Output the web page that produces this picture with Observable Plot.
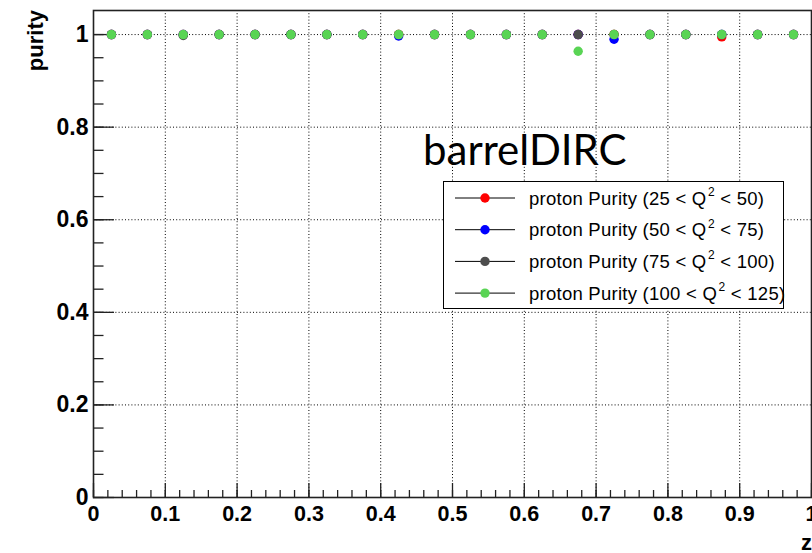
<!DOCTYPE html>
<html>
<head>
<meta charset="utf-8">
<script src="https://cdn.jsdelivr.net/npm/d3@7"></script>
<script src="https://cdn.jsdelivr.net/npm/@observablehq/plot@0.6"></script>
<style>
  html, body { margin: 0; padding: 0; background: #fff; }
  #chart { position: relative; width: 812px; height: 553px; overflow: hidden; }
</style>
</head>
<body>
<div id="chart"></div>
<script>
// ---- data ----
const zBins = [0.025, 0.075, 0.125, 0.175, 0.225, 0.275, 0.325, 0.375, 0.425, 0.475,
               0.525, 0.575, 0.625, 0.675, 0.725, 0.775, 0.825, 0.875, 0.925, 0.975];
const seriesNames = ["25 < Q2 < 50", "50 < Q2 < 75", "75 < Q2 < 100", "100 < Q2 < 125"];
const seriesLegend = [["25", "50"], ["50", "75"], ["75", "100"], ["100", "125"]];
const seriesColors = ["#ff0000", "#0000ff", "#4d4d4d", "#59d454"];
const purityQ25_50   = [1, 1, 1, 1, 1, 1, 1, 1, 1, 1, 1, 1, 1, 1, 1, 1, 1, 0.995, 1, 1];
const purityQ50_75   = [1, 1, 1, 1, 1, 1, 1, 1, 0.997, 1, 1, 1, 1, 1, 0.990, 1, 1, 1, 1, 1];
const purityQ75_100  = [1, 1, 0.998, 1, 1, 1, 1, 1, 1, 1, 1, 1, 1, 1, 1, 1, 1, 1, 1, 1];
const purityQ100_125 = [1, 1, 1, 1, 1, 1, 1, 1, 1, 1, 1, 1, 1, 0.964, 1, 1, 1, 1, 1, 1];
const xMajor = [0, 0.1, 0.2, 0.3, 0.4, 0.5, 0.6, 0.7, 0.8, 0.9, 1];
const xTickLabels = ["0", "0.1", "0.2", "0.3", "0.4", "0.5", "0.6", "0.7", "0.8", "0.9", "1"];
const yMajor = [0, 0.2, 0.4, 0.6, 0.8, 1];
const yTickLabels = ["0", "0.2", "0.4", "0.6", "0.8", "1"];
const xMinor = d3.range(0, 51).map(i => i * 0.02);
const yMinor = d3.range(0, 21).map(i => i * 0.05);
const xGrid = [0.1, 0.2, 0.3, 0.4, 0.5, 0.6, 0.7, 0.8, 0.9];
const yGrid = [0.2, 0.4, 0.6, 0.8, 1];

const allSeries = [purityQ25_50, purityQ50_75, purityQ75_100, purityQ100_125];
const rows = [];
allSeries.forEach((vals, s) => vals.forEach((v, i) => rows.push({z: zBins[i], purity: v, series: seriesNames[s]})));

const W = 812, H = 553;
const mL = 93, mR = 1, mT = 10, mB = 56;
const axisColor = "#222";
const font = "'Liberation Sans', Arial, Helvetica, sans-serif";
const xFmt = d => xTickLabels[xMajor.indexOf(d)];
const yFmt = d => yTickLabels[yMajor.indexOf(d)];

const plot = Plot.plot({
  width: W, height: H,
  marginLeft: mL, marginRight: mR, marginTop: mT, marginBottom: mB,
  style: {fontFamily: font, background: "#fff", overflow: "visible"},
  x: {domain: [0, 1], axis: null},
  y: {domain: [0, 1.052], axis: null},
  color: {domain: seriesNames, range: seriesColors},
  marks: [
    Plot.gridX(xGrid, {stroke: "#000", strokeOpacity: 1, strokeDasharray: "1,2.2", strokeWidth: 1}),
    Plot.gridY(yGrid, {stroke: "#000", strokeOpacity: 1, strokeDasharray: "1,2.2", strokeWidth: 1}),
    // ticks inside the frame
    Plot.axisX({ticks: xMinor, tickSize: -7, tickFormat: () => "", label: null, stroke: axisColor, strokeWidth: 1.3}),
    Plot.axisX({ticks: xMajor, tickSize: -14, tickFormat: () => "", label: null, stroke: axisColor, strokeWidth: 1.3}),
    Plot.axisY({ticks: yMinor, tickSize: -10.5, tickFormat: () => "", label: null, stroke: axisColor, strokeWidth: 1.3}),
    Plot.axisY({ticks: yMajor, tickSize: -21, tickFormat: () => "", label: null, stroke: axisColor, strokeWidth: 1.3}),
    // tick labels
    Plot.axisX({ticks: xMajor, tickSize: 0, tickPadding: 8, tickFormat: xFmt, label: null, fontSize: 21.5, fontWeight: "bold", fill: "#000"}),
    Plot.axisY({ticks: yMajor, tickSize: 0, tickPadding: 5, tickFormat: yFmt, label: null, fontSize: 23, fontWeight: "bold", fill: "#000"}),
    Plot.frame({stroke: axisColor, strokeWidth: 1.6}),
    Plot.dot(rows, {x: "z", y: "purity", fill: "series", r: 4.7, stroke: null})
  ]
});
document.getElementById("chart").appendChild(plot);

const svg = d3.select(plot);
// axis titles
svg.append("text")
  .attr("transform", "translate(43,10) rotate(-90)")
  .attr("text-anchor", "end")
  .style("font-family", font).style("font-weight", "bold").style("font-size", "22px")
  .text("purity");
svg.append("text")
  .attr("x", 812).attr("y", 550)
  .attr("text-anchor", "end")
  .style("font-family", font).style("font-weight", "bold").style("font-size", "22px")
  .text("z");
// annotation
svg.append("text")
  .attr("x", 423).attr("y", 165)
  .attr("text-anchor", "start")
  .style("font-family", "Lato, 'Open Sans', sans-serif").style("font-size", "42px")
  .text("barrelDIRC");
// legend
const lg = svg.append("g");
lg.append("rect").attr("x", 443.5).attr("y", 181.5).attr("width", 340).attr("height", 127)
  .attr("fill", "#fff").attr("stroke", "#000").attr("stroke-width", 1);
seriesNames.forEach((name, i) => {
  const cy = 198 + i * 31.7;
  lg.append("line").attr("x1", 455).attr("x2", 515).attr("y1", cy).attr("y2", cy)
    .attr("stroke", "#000").attr("stroke-width", 1);
  lg.append("circle").attr("cx", 485).attr("cy", cy).attr("r", 4.7).attr("fill", seriesColors[i]);
  const t = lg.append("text").attr("x", 529).attr("y", cy + 6.5)
    .attr("text-anchor", "start")
    .style("font-family", font).style("font-size", "18.5px").style("letter-spacing", "0.25px").attr("fill", "#000");
  t.append("tspan").text(`proton Purity (${seriesLegend[i][0]} < Q`);
  t.append("tspan").attr("dx", 1.5).attr("dy", -8.5).style("font-size", "12px").text("2");
  t.append("tspan").attr("dy", 8.5).text(` < ${seriesLegend[i][1]})`);
});
</script>
</body>
</html>
